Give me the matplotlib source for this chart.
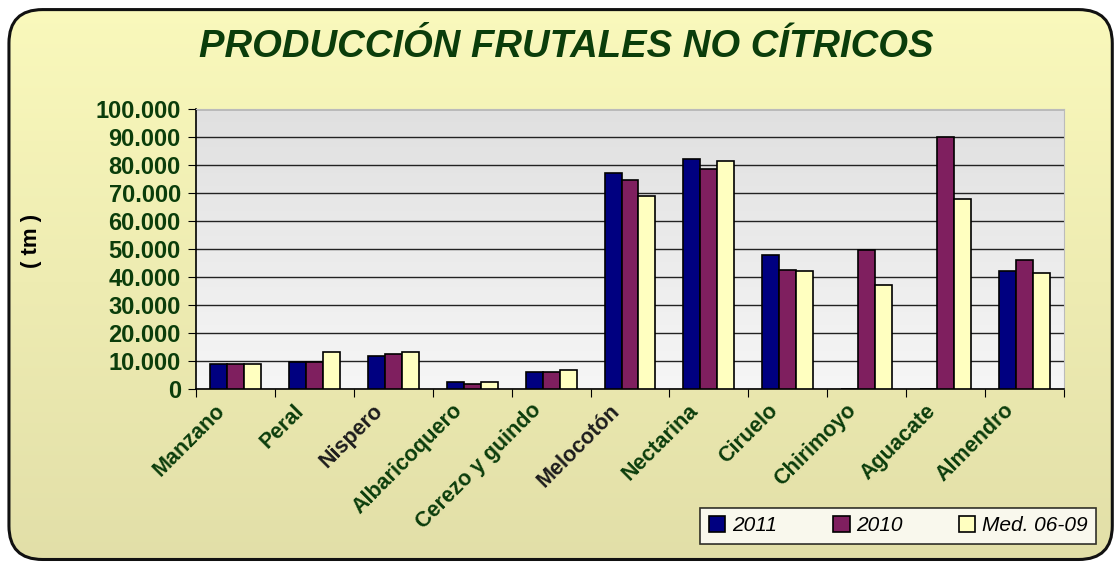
import numpy as np
import matplotlib
matplotlib.use("Agg")
import matplotlib.pyplot as plt
from matplotlib.patches import FancyBboxPatch
from matplotlib.ticker import FuncFormatter, MultipleLocator

plt.rcParams['font.family'] = ['Liberation Sans', 'DejaVu Sans']

cultivos = ["Manzano", "Peral", "Nispero", "Albaricoquero", "Cerezo y guindo",
            "Melocotón", "Nectarina", "Ciruelo", "Chirimoyo", "Aguacate", "Almendro"]
series = ["2011", "2010", "Med. 06-09"]
v2011 = [8900, 9500, 11900, 2400, 6000, 77000, 82200, 48000, 0, 0, 42000]
v2010 = [8900, 9500, 12500, 1800, 6000, 74600, 78700, 42600, 49600, 90000, 46100]
vmed = [8900, 13100, 13100, 2400, 6700, 69100, 81600, 42000, 37300, 67900, 41400]
colores = ["#000080", "#7F1F5F", "#FFFFC0"]

GREEN = "#0B3D0B"

fig = plt.figure(figsize=(11.19, 5.64), dpi=100)

# fondo amarillo con degradado, dentro de un marco redondeado
bg = fig.add_axes([0, 0, 1, 1], zorder=-10)
bg.set_axis_off()
bg.set_xlim(0, 1); bg.set_ylim(0, 1)
grad = np.linspace(0, 1, 256).reshape(-1, 1)
top, bot = np.array([250, 249, 188]) / 255, np.array([226, 223, 168]) / 255
img = (bot + (top - bot) * grad[:, :, None] * np.ones((1, 1, 3)))
im = bg.imshow(img, extent=(0, 1, 0, 1), origin="lower", aspect="auto")
frame = FancyBboxPatch((0.008, 0.008), 0.986, 0.975,
                       boxstyle="round,pad=0,rounding_size=0.03",
                       transform=bg.transAxes, facecolor="none",
                       edgecolor="#111111", linewidth=2.2, mutation_aspect=1119 / 564)
bg.add_patch(frame)
im.set_clip_path(frame)

fig.text(0.506, 0.917, "PRODUCCIÓN FRUTALES NO CÍTRICOS", ha="center", va="center",
         fontsize=27.5, fontweight="bold", fontstyle="italic", color=GREEN)

ax = fig.add_axes([0.1752, 0.3103, 0.7756, 0.4964])
n = len(cultivos)
x = np.arange(n)
w = 0.215
ax.set_xlim(-0.5, n - 0.5)
ax.set_ylim(0, 100000)

# degradado gris del área de trazado
pgrad = np.linspace(0, 1, 256).reshape(-1, 1)
ptop, pbot = np.array([224, 224, 224]) / 255, np.array([246, 246, 246]) / 255
pimg = pbot + (ptop - pbot) * pgrad[:, :, None] * np.ones((1, 1, 3))
ax.imshow(pimg, extent=(-0.5, n - 0.5, 0, 100000), origin="lower", aspect="auto", zorder=0)

for i, (vals, c, lab) in enumerate(zip([v2011, v2010, vmed], colores, series)):
    ax.bar(x + (i - 1) * w, vals, width=w, color=c, edgecolor="black",
           linewidth=1.2, label=lab, zorder=3)

ax.yaxis.set_major_locator(MultipleLocator(10000))
ax.yaxis.set_major_formatter(FuncFormatter(lambda v, p: f"{int(v):,}".replace(",", ".")))
ax.grid(axis="y", color="#222222", linewidth=1.0, zorder=1)
ax.set_axisbelow(True)

ax.set_xticks(np.arange(n + 1) - 0.5)
ax.set_xticklabels([])
ax.tick_params(axis="x", direction="out", length=6, color="black")
# etiquetas de categoría giradas
for i, name in zip(x, cultivos):
    col = "#1c1c1c" if name in ("Nispero", "Melocotón") else GREEN
    ax.annotate(name, xy=(i, 0), xycoords=("data", "axes fraction"),
                xytext=(-15, -8), textcoords="offset points",
                rotation=45, ha="right", va="top", rotation_mode="anchor",
                fontsize=15.5, fontweight="bold", color=col, annotation_clip=False)

ax.tick_params(axis="y", direction="out", length=6, labelsize=17, labelcolor=GREEN, pad=5)
for t in ax.get_yticklabels():
    t.set_fontweight("bold")

for s in ["top", "right"]:
    ax.spines[s].set_color("#BBBBBB")
for s in ["left", "bottom"]:
    ax.spines[s].set_color("black")
    ax.spines[s].set_linewidth(1.2)

fig.text(0.028, 0.572, "( tm )", rotation=90, ha="center", va="center",
         fontsize=16, fontweight="bold", color="black")

leg = fig.legend(loc="lower left", bbox_to_anchor=(0.626, 0.036, 0.353, 0.074),
                 mode="expand", ncol=3, frameon=True, fancybox=False,
                 prop={"style": "italic", "size": 15}, handlelength=0.8, handleheight=0.8,
                 handletextpad=0.3, borderaxespad=0, columnspacing=1.0)
leg.get_frame().set_edgecolor("black")
leg.get_frame().set_linewidth(1.2)

fig.savefig("out.png", dpi=100)
